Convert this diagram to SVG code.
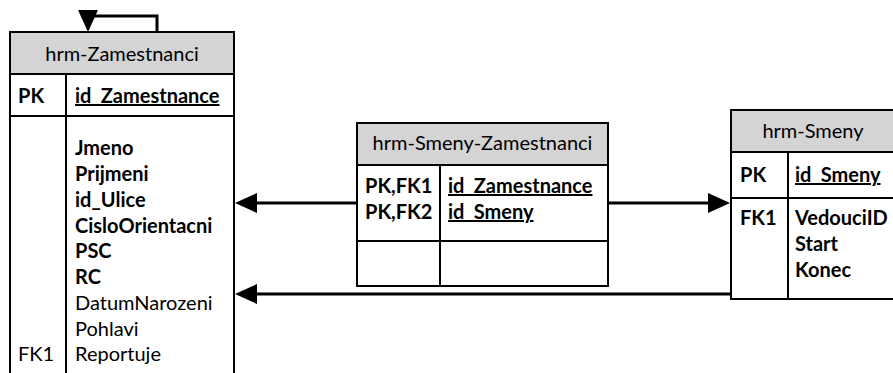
<svg xmlns="http://www.w3.org/2000/svg" width="893" height="373" viewBox="0 0 893 373">
<style>
text{font-family:Lato,"Open Sans","Liberation Sans",sans-serif;font-size:20px;fill:#000}
.b{font-weight:bold}
.u{text-decoration:underline}
.h{text-anchor:middle}
.frame{fill:#fff;stroke:#000;stroke-width:2}
.head{fill:#d4d4d4;stroke:#000;stroke-width:2}
.div{stroke:#000;stroke-width:2;fill:none}
.conn{stroke:#000;stroke-width:3;fill:none}
.ah{fill:#000}
</style>
<defs>
<marker id="arr" markerUnits="userSpaceOnUse" viewBox="0 0 22 20" refX="0" refY="10" markerWidth="22" markerHeight="20" orient="auto">
<path d="M0,0 L22,10 L0,20 Z" fill="#000"/>
</marker>
</defs>
<g id="hrm-Zamestnanci">
<rect class="frame" x="10" y="32" width="224" height="360"/>
<rect class="head" x="10" y="32" width="224" height="42"/>
<line class="div" x1="10" y1="116" x2="234" y2="116"/>
<line class="div" x1="66" y1="74" x2="66" y2="380"/>
<text class="h" x="122" y="61">hrm-Zamestnanci</text>
<text class="b" x="18" y="103">PK</text>
<text class="b u" x="75" y="103">id_Zamestnance</text>
<text class="b" x="75" y="155">Jmeno</text>
<text class="b" x="75" y="181">Prijmeni</text>
<text class="b" x="75" y="207">id_Ulice</text>
<text class="b" x="75" y="233">CisloOrientacni</text>
<text class="b" x="75" y="258">PSC</text>
<text class="b" x="75" y="284">RC</text>
<text x="75" y="310">DatumNarozeni</text>
<text x="75" y="336">Pohlavi</text>
<text x="18" y="361">FK1</text>
<text x="75" y="361">Reportuje</text>
</g>
<g id="hrm-Smeny-Zamestnanci">
<rect class="frame" x="357" y="123" width="251" height="163"/>
<rect class="head" x="357" y="123" width="251" height="42"/>
<line class="div" x1="357" y1="241" x2="608" y2="241"/>
<line class="div" x1="440" y1="165" x2="440" y2="286"/>
<text class="h" x="482.5" y="150">hrm-Smeny-Zamestnanci</text>
<text class="b" x="365" y="193">PK,FK1</text>
<text class="b" x="365" y="219">PK,FK2</text>
<text class="b u" x="448" y="193">id_Zamestnance</text>
<text class="b u" x="448" y="219">id_Smeny</text>
</g>
<g id="hrm-Smeny">
<rect class="frame" x="731" y="110" width="175" height="189"/>
<rect class="head" x="731" y="110" width="175" height="42"/>
<line class="div" x1="731" y1="198" x2="900" y2="198"/>
<line class="div" x1="788" y1="152" x2="788" y2="299"/>
<text class="h" x="813" y="138">hrm-Smeny</text>
<text class="b" x="740" y="182">PK</text>
<text class="b u" x="795" y="182">id_Smeny</text>
<text class="b" x="740" y="225">FK1</text>
<text class="b" x="795" y="225">VedouciID</text>
<text class="b" x="795" y="251">Start</text>
<text class="b" x="795" y="277">Konec</text>
</g>
<g id="connectors">
<path class="conn" d="M357,203 H257" marker-end="url(#arr)"/>
<path class="conn" d="M608,203 H708" marker-end="url(#arr)"/>
<path class="conn" d="M731,294 H257" marker-end="url(#arr)"/>
<path class="conn" d="M157,32 V16 H88 V12"/>
<polygon class="ah" points="78,10 98,10 88,32"/>
</g>
</svg>
